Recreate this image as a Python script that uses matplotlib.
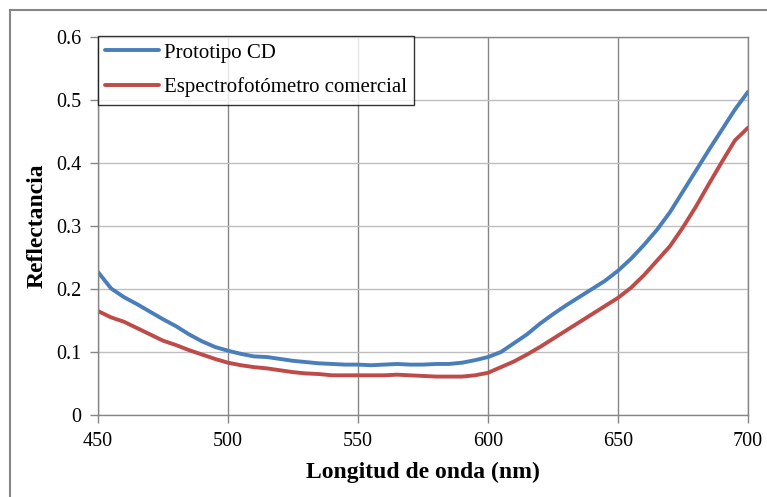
import matplotlib
matplotlib.use("Agg")
import matplotlib.pyplot as plt
from matplotlib.lines import Line2D

## Data
wavelength = list(range(450, 701, 5))

prototipo_cd = [
    0.227, 0.201, 0.187, 0.176, 0.164, 0.152, 0.141, 0.128, 0.117, 0.108,
    0.102, 0.097, 0.093, 0.092, 0.089, 0.086, 0.084, 0.082, 0.081, 0.080,
    0.080, 0.079, 0.080, 0.081, 0.080, 0.080, 0.081, 0.081, 0.083, 0.087,
    0.092, 0.100, 0.114, 0.128, 0.145, 0.160, 0.174, 0.187, 0.200, 0.213,
    0.229, 0.248, 0.270, 0.294, 0.322, 0.355, 0.388, 0.421, 0.453, 0.485,
    0.513,
]

espectrofotometro = [
    0.165, 0.155, 0.148, 0.138, 0.128, 0.118, 0.111, 0.103, 0.096, 0.089,
    0.083, 0.079, 0.076, 0.074, 0.071, 0.068, 0.066, 0.065, 0.063, 0.063,
    0.063, 0.063, 0.063, 0.064, 0.063, 0.062, 0.061, 0.061, 0.061, 0.063,
    0.067, 0.076, 0.085, 0.096, 0.108, 0.121, 0.134, 0.147, 0.160, 0.173,
    0.186, 0.202, 0.222, 0.245, 0.268, 0.298, 0.331, 0.367, 0.402, 0.436,
    0.456,
]

series_labels = ["Prototipo CD", "Espectrofotómetro comercial"]
x_ticks = [450, 500, 550, 600, 650, 700]
y_ticks = [0, 0.1, 0.2, 0.3, 0.4, 0.5, 0.6]
y_tick_labels = ["0", "0.1", "0.2", "0.3", "0.4", "0.5", "0.6"]

plt.rcParams["font.family"] = ["Liberation Serif", "DejaVu Serif"]

fig = plt.figure(figsize=(7.67, 4.97), dpi=100)
ax = fig.add_axes([98 / 767, 1 - 415 / 497, 650 / 767, 378 / 497])

ax.plot(wavelength, prototipo_cd, color="#4A7EBB", lw=2.8, label=series_labels[0],
        solid_capstyle="round", solid_joinstyle="round")
ax.plot(wavelength, espectrofotometro, color="#BE4B48", lw=2.8, label=series_labels[1],
        solid_capstyle="round", solid_joinstyle="round")

ax.set_xlim(450, 700)
ax.set_ylim(0, 0.6)
ax.set_xticks(x_ticks)
ax.set_yticks(y_ticks)
ax.set_yticklabels(y_tick_labels)

# grid: vertical darker, horizontal lighter (Excel style)
ax.xaxis.grid(True, color="#868686", lw=1)
ax.yaxis.grid(True, color="#BEBEBE", lw=1)
ax.set_axisbelow(True)

for side in ["left", "bottom", "top", "right"]:
    ax.spines[side].set_color("#868686")
    ax.spines[side].set_linewidth(1)

ax.tick_params(axis="both", direction="out", length=6, width=1, color="#868686",
               labelsize=14.5, pad=6)

ax.set_xlabel("Longitud de onda (nm)", fontsize=17, fontweight="bold", labelpad=8)
ax.set_ylabel("Reflectancia", fontsize=17, fontweight="bold", labelpad=6)

leg = ax.legend(loc="upper left", bbox_to_anchor=(0, 1.003), fontsize=15,
                frameon=True, fancybox=False, borderaxespad=0, handlelength=2.6,
                handletextpad=0.2, borderpad=0.35, labelspacing=0.7)
leg.get_frame().set_edgecolor("black")
leg.get_frame().set_linewidth(1)

# outer chart frame (left and top edges visible)
fig.add_artist(Line2D([10 / 767, 10 / 767], [0, 1 - 10 / 497], transform=fig.transFigure,
                      color="#868686", lw=1.5))
fig.add_artist(Line2D([10 / 767, 1], [1 - 10 / 497, 1 - 10 / 497], transform=fig.transFigure,
                      color="#868686", lw=1.5))

fig.savefig("out.png", dpi=100)
